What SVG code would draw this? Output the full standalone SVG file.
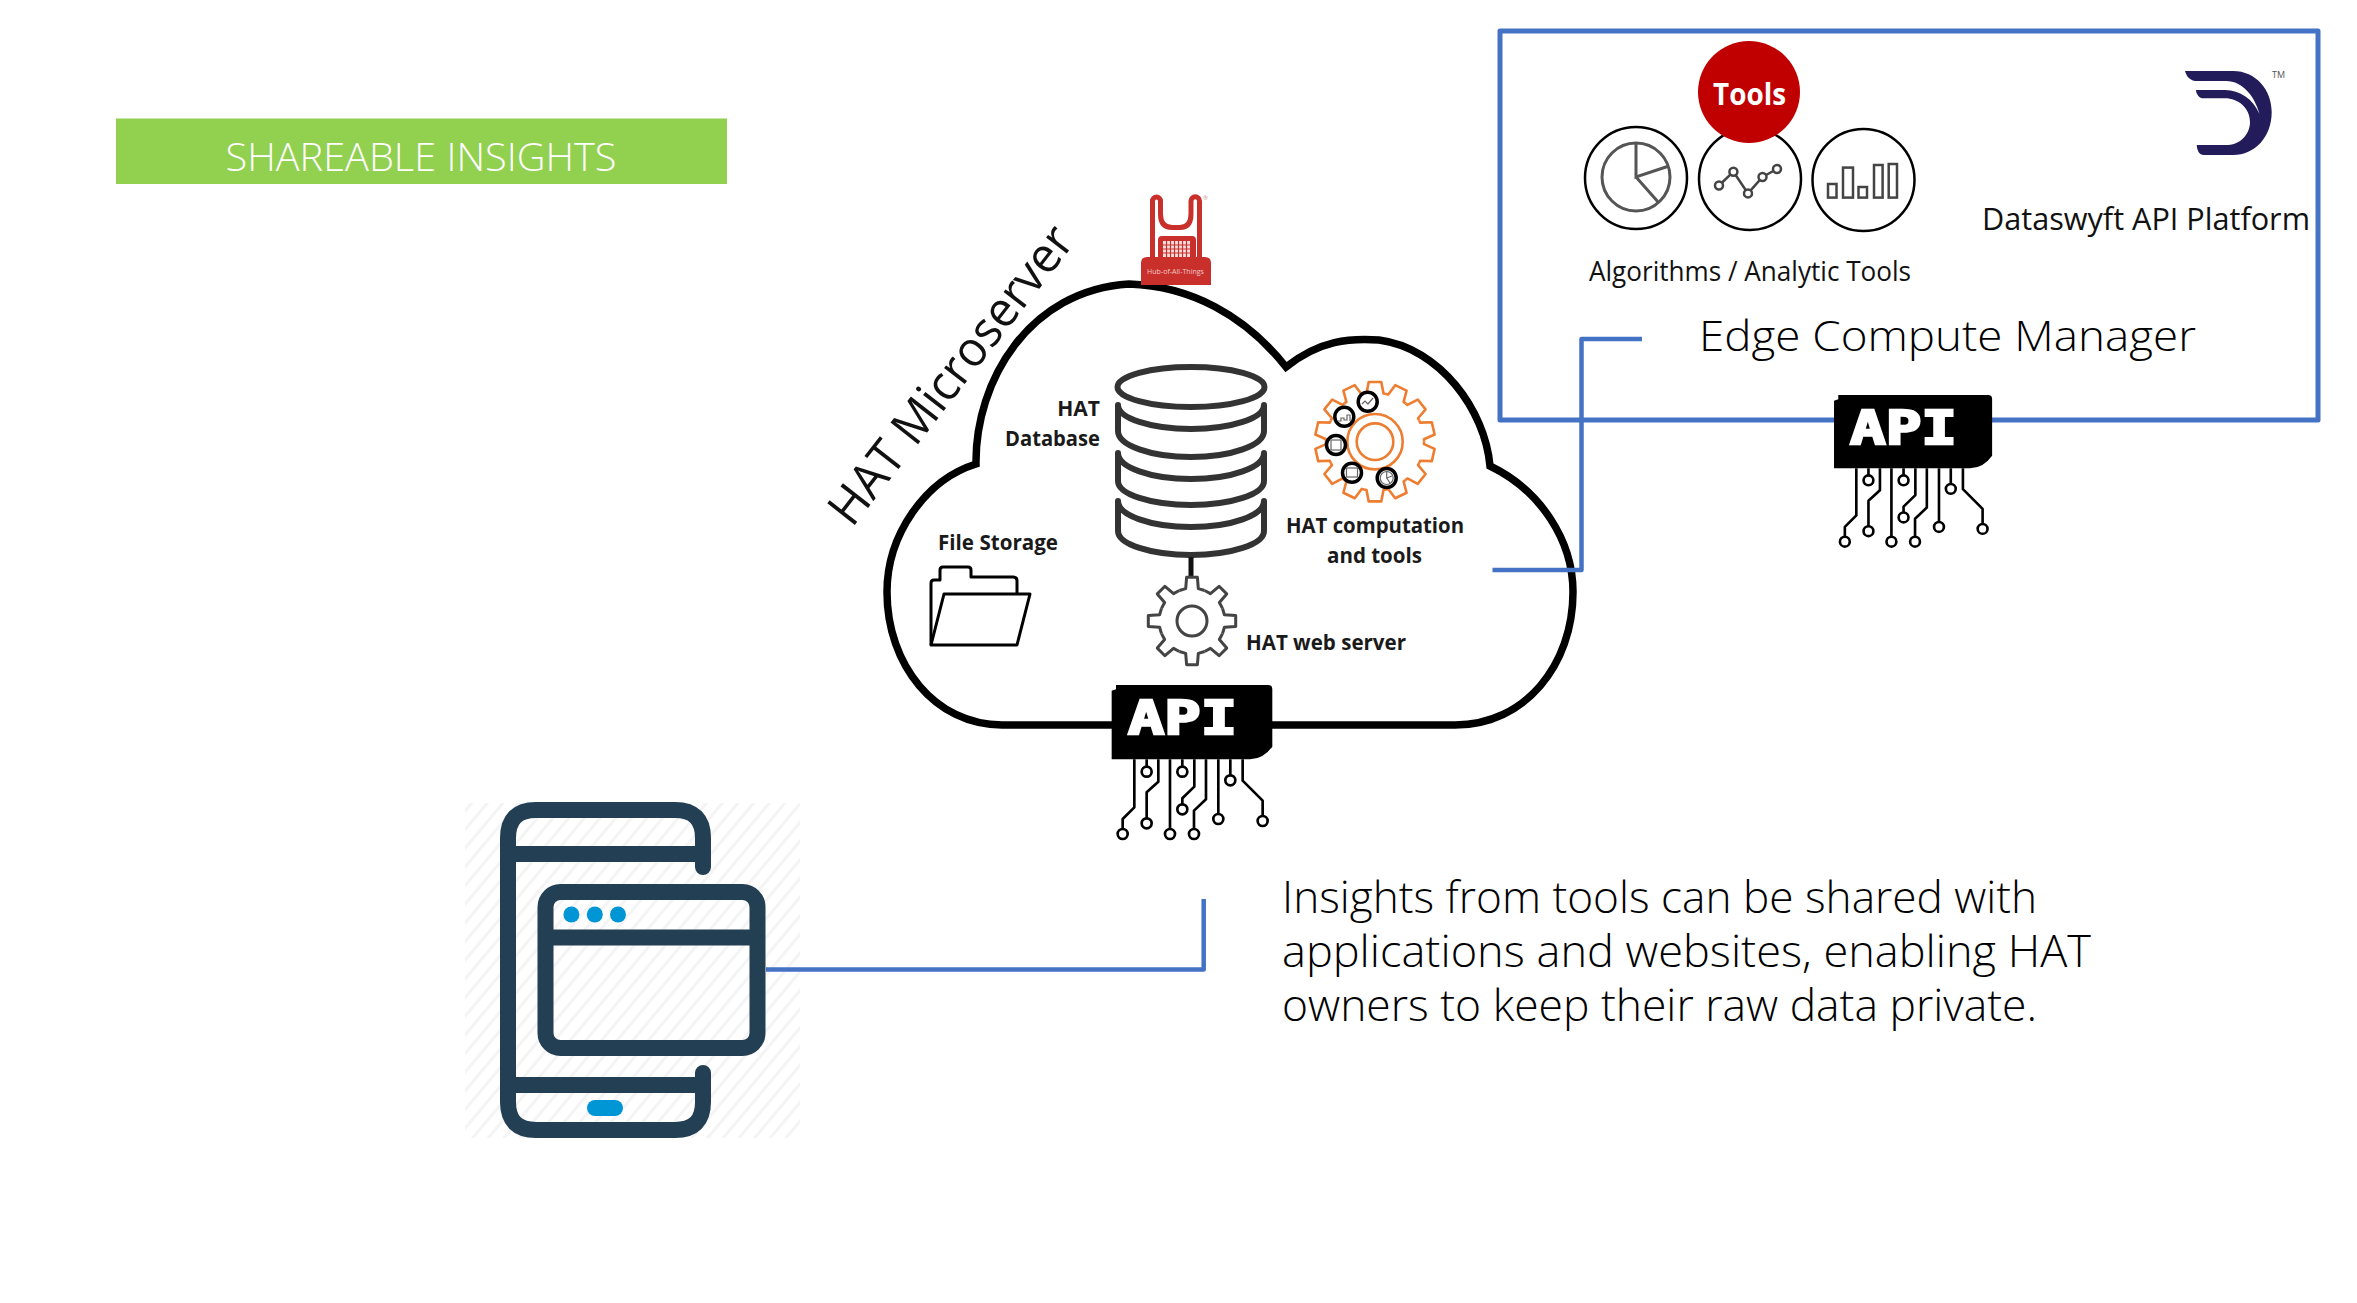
<svg xmlns="http://www.w3.org/2000/svg" xmlns:xlink="http://www.w3.org/1999/xlink" width="2357" height="1303" viewBox="0 0 2357 1303">
  <style>
    .t { font-family: "Open Sans", "Liberation Sans", sans-serif; fill: #111; }
    .l { font-family: "Open Sans", "Liberation Sans", sans-serif; font-weight: 300; fill: #000; }
    .b { font-family: "Open Sans", "Liberation Sans", sans-serif; font-weight: 700; font-size: 21px; fill: #1a1a1a; }
    .api { font-family: "DejaVu Sans Mono", "Liberation Mono", monospace; font-weight: 700; font-size: 46px; fill: #fff; stroke: #fff; stroke-width: 2.4; }
    .link { fill: none; stroke: #4472C4; stroke-width: 4.5; stroke-linejoin: round; }
    .trace { fill: none; stroke: #000; stroke-width: 8; stroke-linejoin: round; }
    .pad { fill: #fff; stroke: #000; stroke-width: 8; }
    .navy { fill: none; stroke: #223F54; stroke-width: 16; stroke-linecap: round; }
    .sky { fill: #0096D6; }
    .ring { fill: #fff; stroke: #000; stroke-width: 2.5; }
    .disc { fill: #fff; stroke: #000; stroke-width: 3.5; }
    .glyph { fill: none; stroke: #666; stroke-width: 1.2; }
    .db { fill: none; stroke: #333; stroke-width: 6; stroke-linecap: round; }
  </style>
  <defs>
    <pattern id="hatch" width="12" height="12" patternUnits="userSpaceOnUse" patternTransform="rotate(40)">
      <rect width="12" height="12" fill="#fff"/>
      <rect width="3" height="12" fill="#f4f4f4"/>
    </pattern>
    <!-- chip body with its ten solder traces, drawn at 3x and scaled where used -->
    <g id="chip">
      <path d="M78 45H535Q547 45 547 57V230Q520 268 480 268H65V62L78 58Z" fill="#000"/>
      <path class="trace" d="M133 268V412L98 447V476M170 268V290M205 268V335L170 367V445M240 268V476M277 268V290M313 268V350L277 385V402M348 268V388L312 422V476M385 268V432M421 268V315M458 268V332L518 392V437"/>
      <circle class="pad" cx="98" cy="492" r="15"/><circle class="pad" cx="170" cy="305" r="15"/>
      <circle class="pad" cx="170" cy="460" r="15"/><circle class="pad" cx="240" cy="492" r="15"/>
      <circle class="pad" cx="277" cy="305" r="15"/><circle class="pad" cx="277" cy="418" r="15"/>
      <circle class="pad" cx="312" cy="492" r="15"/><circle class="pad" cx="385" cy="447" r="15"/>
      <circle class="pad" cx="421" cy="331" r="15"/><circle class="pad" cx="518" cy="453" r="15"/>
    </g>
    <path id="tooth8" d="M-12.6 -30.5L-6.3 -32.4L-5.4 -43.7L5.4 -43.7L6.3 -32.4L12.6 -30.5" fill="none" stroke="#444" stroke-width="3" stroke-linejoin="round"/>
    <path id="tooth14" d="M-10.9 -47.8L-8.5 -48.3L-6.3 -59.7L6.3 -59.7L8.5 -48.3L10.9 -47.8" fill="none" stroke="#ED7D31" stroke-width="2.6" stroke-linejoin="round"/>
  </defs>

  <rect width="2357" height="1303" fill="#fff"/>

  <g id="banner">
    <rect x="116" y="118.500" width="611" height="65.500" fill="#92D050"/>
    <text x="225.500" y="170.500" class="l" style="fill:#fff" font-size="39" textLength="391" lengthAdjust="spacingAndGlyphs">SHAREABLE INSIGHTS</text>
  </g>

  <g id="platform-box">
    <rect x="1500" y="31" width="818" height="389" fill="none" stroke="#4472C4" stroke-width="5" stroke-linejoin="round"/>
  </g>

  <g id="cloud">
    <path d="M1129 284C1190 286 1245 315 1286 367C1320 340 1350 338 1379 340C1440 348 1485 410 1490 466C1540 490 1573 540 1573 592C1573 665 1525 725 1455 725H1002C935 725 887 665 887 592C887 535 925 480 976 464C975 380 1030 290 1129 284Z" fill="#fff" stroke="#000" stroke-width="7.500" stroke-linejoin="miter"/>
  </g>

  <g id="hat-logo">
    <path d="M1152.500 262V201A4 4 0 0 1 1160.500 201V214Q1160.500 227.500 1172 227.500H1180Q1191 227.500 1191 214V201A4 4 0 0 1 1199.500 201V262" fill="none" stroke="#C9302C" stroke-width="5"/>
    <rect x="1158" y="236" width="38" height="24" rx="4" fill="#C9302C"/>
    <path d="M1163 241H1190V257H1163Z" fill="#f4dede"/>
    <path d="M1166.500 241V257M1170.500 241V257M1174.500 241V257M1178.500 241V257M1182.500 241V257M1186.500 241V257M1163 245H1190M1163 249H1190M1163 253H1190" stroke="#C9302C" stroke-width="1.200"/>
    <path d="M1141 285V263Q1141 257 1147 257H1205Q1211 257 1211 263V285Z" fill="#C9302C"/>
    <text x="1147" y="274" font-family="Open Sans, sans-serif" font-size="8" fill="#f0c8c8" textLength="57" lengthAdjust="spacingAndGlyphs">Hub-of-All-Things</text>
    <text x="1203" y="200" font-family="Open Sans, sans-serif" font-size="6" fill="#c99">®</text>
  </g>

  <text id="hat-microserver" class="t" transform="translate(852 528.500) rotate(-52)" font-size="49" textLength="364" lengthAdjust="spacingAndGlyphs">HAT Microserver</text>

  <g id="hat-database">
    <ellipse cx="1191" cy="387" rx="73.500" ry="20" fill="none" stroke="#333" stroke-width="6"/>
    <path class="db" d="M1118 405A73 24 0 0 0 1264 405M1118 405V431A73 26 0 0 0 1264 431V405"/>
    <path class="db" d="M1118 453A73 26 0 0 0 1264 453M1118 453V481A73 24 0 0 0 1264 481V453"/>
    <path class="db" d="M1118 501A73 26 0 0 0 1264 501M1118 501V531A73 24 0 0 0 1264 531V501"/>
    <text class="b" x="1100" y="416" text-anchor="end">HAT</text>
    <text class="b" x="1005" y="446" textLength="95" lengthAdjust="spacingAndGlyphs">Database</text>
    <path d="M1191 557V578" stroke="#111" stroke-width="5"/>
  </g>

  <g id="hat-web-server">
    <g transform="translate(1192 621)">
      <use xlink:href="#tooth8"/><use xlink:href="#tooth8" transform="rotate(45)"/><use xlink:href="#tooth8" transform="rotate(90)"/><use xlink:href="#tooth8" transform="rotate(135)"/>
      <use xlink:href="#tooth8" transform="rotate(180)"/><use xlink:href="#tooth8" transform="rotate(225)"/><use xlink:href="#tooth8" transform="rotate(270)"/><use xlink:href="#tooth8" transform="rotate(315)"/>
      <circle r="15" fill="none" stroke="#444" stroke-width="3"/>
    </g>
    <text class="b" x="1246" y="650" textLength="160" lengthAdjust="spacingAndGlyphs">HAT web server</text>
  </g>

  <g id="hat-computation">
    <g transform="translate(1375 441.700)">
      <use xlink:href="#tooth14"/><use xlink:href="#tooth14" transform="rotate(25.714)"/><use xlink:href="#tooth14" transform="rotate(51.429)"/><use xlink:href="#tooth14" transform="rotate(77.143)"/>
      <use xlink:href="#tooth14" transform="rotate(102.857)"/><use xlink:href="#tooth14" transform="rotate(128.571)"/><use xlink:href="#tooth14" transform="rotate(154.286)"/><use xlink:href="#tooth14" transform="rotate(180)"/>
      <use xlink:href="#tooth14" transform="rotate(205.714)"/><use xlink:href="#tooth14" transform="rotate(231.429)"/><use xlink:href="#tooth14" transform="rotate(257.143)"/><use xlink:href="#tooth14" transform="rotate(282.857)"/>
      <use xlink:href="#tooth14" transform="rotate(308.571)"/><use xlink:href="#tooth14" transform="rotate(334.286)"/>
      <circle r="27.700" fill="none" stroke="#ED7D31" stroke-width="2.600"/>
      <circle r="18.300" fill="none" stroke="#ED7D31" stroke-width="2.600"/>
    </g>
    <circle class="disc" cx="1367.700" cy="401.700" r="9.500"/><path class="glyph" d="M1362 404L1365 401L1368 404L1373 398"/>
    <circle class="disc" cx="1344.300" cy="416.700" r="9.500"/><path class="glyph" d="M1338 421H1341V418H1344V420H1347V415H1350V421"/>
    <circle class="disc" cx="1336" cy="445" r="9.500"/><rect class="glyph" x="1331" y="440" width="10" height="10"/>
    <circle class="disc" cx="1352" cy="472.700" r="9.500"/><rect class="glyph" x="1346.500" y="468" width="11" height="9"/>
    <circle class="disc" cx="1386.700" cy="478" r="9.500"/><circle class="glyph" cx="1386.700" cy="478" r="6.500"/><path class="glyph" d="M1386.700 471.500V478L1392 476M1386.700 478L1390 483"/>
    <text class="b" x="1286" y="533" textLength="178" lengthAdjust="spacingAndGlyphs">HAT computation</text>
    <text class="b" x="1327" y="563" textLength="95" lengthAdjust="spacingAndGlyphs">and tools</text>
  </g>

  <g id="file-storage">
    <path d="M931 645V583Q931 580 934 580H940V570Q940 567 943 567H968Q971 567 971 570V577H1013Q1017 577 1017 581V594" fill="#fff" stroke="#000" stroke-width="3" stroke-linejoin="round"/>
    <path d="M944 594H1030L1017 645H931Z" fill="#fff" stroke="#000" stroke-width="3" stroke-linejoin="round"/>
    <text class="b" x="938" y="549.500" textLength="120" lengthAdjust="spacingAndGlyphs">File Storage</text>
  </g>

  <g id="hat-api">
    <use xlink:href="#chip" transform="translate(1090 670) scale(.3333)"/>
    <text class="api" x="1128" y="734" textLength="109" lengthAdjust="spacingAndGlyphs">API</text>
  </g>

  <g id="tools">
    <circle class="ring" cx="1636" cy="178" r="51"/>
    <circle class="ring" cx="1750" cy="179" r="51"/>
    <circle class="ring" cx="1863.500" cy="180" r="51"/>
    <g fill="none" stroke="#555" stroke-width="3">
      <circle cx="1636" cy="177" r="34"/>
      <path d="M1636 142V177L1669 166M1636 177L1659 203"/>
    </g>
    <g fill="none" stroke="#444" stroke-width="2.500">
      <path d="M1719 185.500L1733.400 171.700L1748 193.400L1762.500 177L1777 169"/>
      <g fill="#fff">
        <circle cx="1719" cy="185.500" r="4"/><circle cx="1733.400" cy="171.700" r="4"/><circle cx="1748" cy="193.400" r="4"/><circle cx="1762.500" cy="177" r="4"/><circle cx="1777" cy="169" r="4"/>
      </g>
      <rect x="1828" y="184" width="8.500" height="13.600"/><rect x="1843" y="167.600" width="10" height="30"/><rect x="1858.500" y="187" width="8.500" height="10.600"/><rect x="1874" y="165" width="8.600" height="32.600"/><rect x="1888.700" y="164" width="8.300" height="33.600"/>
    </g>
    <circle cx="1749" cy="92" r="51" fill="#C00000"/>
    <text x="1713" y="105" font-family="Open Sans, sans-serif" font-weight="700" font-size="30" fill="#fff" textLength="73" lengthAdjust="spacingAndGlyphs">Tools</text>
    <text class="t" x="1589" y="281" font-size="27" textLength="322" lengthAdjust="spacingAndGlyphs">Algorithms / Analytic Tools</text>
  </g>

  <g id="dataswyft">
    <path d="M2185 71H2233C2256 71 2271.700 90 2271.700 112C2271.700 137 2255 155 2233 155H2204C2199 155 2197 150 2196.700 145H2228C2242 144 2250 133 2250 122C2250 108 2238 98.300 2225 98.300H2202C2198 97 2196 93 2196 90H2225C2240 90 2253 99 2259.500 114C2255 97 2243 81 2226 81H2195C2189 80 2186 75 2185 71Z" fill="#221C5A"/>
    <text x="2272" y="78" font-family="Open Sans, sans-serif" font-size="9" fill="#555">TM</text>
    <text class="t" x="1982" y="230" font-size="31" textLength="328" lengthAdjust="spacingAndGlyphs">Dataswyft API Platform</text>
  </g>

  <text id="edge-compute-manager" class="l" x="1699" y="351" font-size="43" textLength="497" lengthAdjust="spacingAndGlyphs">Edge Compute Manager</text>

  <g id="phone-app">
    <rect x="465" y="803" width="335" height="335" fill="url(#hatch)"/>
    <path class="navy" d="M703 867V838Q703 810 675 810H536Q508 810 508 838V1102Q508 1130 536 1130H675Q703 1130 703 1102V1073"/>
    <path class="navy" style="stroke-linecap:butt" d="M508 854H703M508 1085H703"/>
    <rect x="545.500" y="892" width="212" height="156" rx="15" fill="none" stroke="#223F54" stroke-width="16"/>
    <path d="M545.500 937.500H757.500" stroke="#223F54" stroke-width="16"/>
    <circle class="sky" cx="571.400" cy="914.500" r="8"/><circle class="sky" cx="594.800" cy="914.500" r="8"/><circle class="sky" cx="618" cy="914.500" r="8"/>
    <rect class="sky" x="587" y="1100" width="36" height="16" rx="8"/>
  </g>

  <g id="connectors">
    <path class="link" d="M1642 339H1581.500V570H1492.500"/>
    <path class="link" d="M1203.700 899V969.500H766"/>
  </g>

  <g id="platform-api">
    <use xlink:href="#chip" transform="translate(1812.700 380.300) scale(.328)"/>
    <text class="api" x="1850" y="443.500" textLength="107" lengthAdjust="spacingAndGlyphs">API</text>
  </g>

  <g id="insight-note">
    <text class="l" x="1282" y="913" font-size="44" textLength="755" lengthAdjust="spacingAndGlyphs">Insights from tools can be shared with</text>
    <text class="l" x="1282" y="967" font-size="44" textLength="809" lengthAdjust="spacingAndGlyphs">applications and websites, enabling HAT</text>
    <text class="l" x="1282" y="1021" font-size="44" textLength="755" lengthAdjust="spacingAndGlyphs">owners to keep their raw data private.</text>
  </g>
</svg>
